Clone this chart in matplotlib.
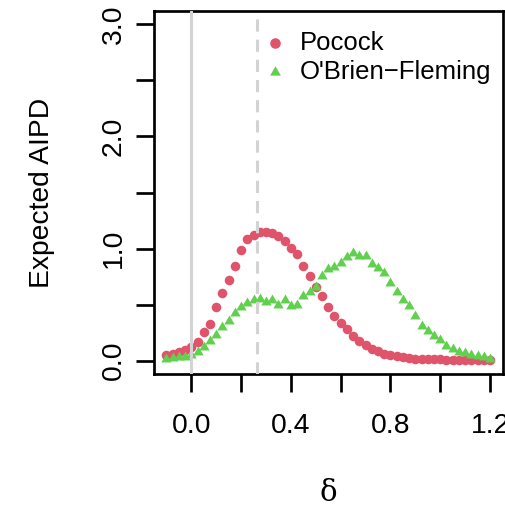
import matplotlib
matplotlib.use("Agg")
import matplotlib.pyplot as plt
import numpy as np
from matplotlib.path import Path

plt.rcParams['font.family'] = ['Liberation Sans', 'DejaVu Sans']

# effect sizes evaluated
delta = [-0.100, -0.075, -0.050, -0.025, 0.000, 0.025, 0.050, 0.075, 0.100, 0.125,
         0.150, 0.175, 0.200, 0.225, 0.250, 0.275, 0.300, 0.325, 0.350, 0.375,
         0.400, 0.425, 0.450, 0.475, 0.500, 0.525, 0.550, 0.575, 0.600, 0.625,
         0.650, 0.675, 0.700, 0.725, 0.750, 0.775, 0.800, 0.825, 0.850, 0.875,
         0.900, 0.925, 0.950, 0.975, 1.000, 1.025, 1.050, 1.075, 1.100, 1.125,
         1.150, 1.175, 1.200]

# expected AIPD, Pocock boundaries
pocock = [0.047, 0.059, 0.077, 0.098, 0.124, 0.166, 0.255, 0.326, 0.474, 0.604,
          0.716, 0.841, 0.986, 1.083, 1.125, 1.143, 1.148, 1.137, 1.113, 1.070,
          1.006, 0.947, 0.847, 0.758, 0.660, 0.577, 0.474, 0.400, 0.331, 0.281,
          0.216, 0.172, 0.136, 0.107, 0.083, 0.062, 0.047, 0.038, 0.030, 0.024,
          0.018, 0.015, 0.013, 0.011, 0.010, 0.009, 0.008, 0.007, 0.006, 0.005,
          0.005, 0.004, 0.004]

# expected AIPD, O'Brien-Fleming boundaries
obf = [0.018, 0.024, 0.030, 0.036, 0.047, 0.074, 0.118, 0.178, 0.231, 0.296,
       0.349, 0.423, 0.474, 0.512, 0.542, 0.551, 0.527, 0.542, 0.497, 0.540,
       0.491, 0.497, 0.580, 0.616, 0.660, 0.758, 0.817, 0.838, 0.867, 0.927,
       0.956, 0.935, 0.935, 0.858, 0.823, 0.779, 0.690, 0.616, 0.542, 0.491,
       0.394, 0.311, 0.261, 0.222, 0.187, 0.133, 0.104, 0.074, 0.068, 0.053,
       0.038, 0.033, 0.015]

delta_ref = 0.265  # dashed reference effect

red = "#DF536B"
green = "#61D04F"
grey = "#D3D3D3"

# equilateral triangle centred on its centroid
s3 = np.sqrt(3.0)
tri = Path([(0, 2 / s3), (1, -1 / s3), (-1, -1 / s3), (0, 2 / s3)],
           [Path.MOVETO, Path.LINETO, Path.LINETO, Path.CLOSEPOLY])

W, H = 505, 507
fig = plt.figure(figsize=(W / 100, H / 100), dpi=100)
ax = fig.add_axes([153.5 / W, 1 - 374 / H, (503 - 153.5) / W, (374 - 11) / H])

ax.scatter(delta, pocock, s=6.9**2, marker='o', color=red, linewidths=0, zorder=3)
ax.scatter(delta, obf, s=8.6**2, marker=tri, color=green, linewidths=0, zorder=3)

ax.axvline(0, color=grey, lw=2.2, zorder=4)
ax.axvline(delta_ref, color=grey, lw=2.2, ls=(0, (4, 2.6)), zorder=4)

ax.set_xlim(-0.152, 1.252)
ax.set_ylim(-0.12, 3.12)

xt = [0.0, 0.2, 0.4, 0.6, 0.8, 1.0, 1.2]
ax.set_xticks(xt)
ax.set_xticklabels(["0.0", "", "0.4", "", "0.8", "", "1.2"])
yt = [0.0, 0.5, 1.0, 1.5, 2.0, 2.5, 3.0]
ax.set_yticks(yt)
ax.set_yticklabels(["0.0", "", "1.0", "", "2.0", "", "3.0"], rotation=90, va='center')

for sp in ax.spines.values():
    sp.set_linewidth(1.95)
ax.tick_params(axis='both', direction='out', length=13, width=1.95, labelsize=20.3)
ax.tick_params(axis='x', pad=15)
ax.tick_params(axis='y', pad=6)

ax.set_ylabel("Expected AIPD", fontsize=20.3, labelpad=33)
fig.text(328 / W, 1 - 493 / H, "δ", fontsize=21, family=['DejaVu Serif'],
         ha='center', va='center')

# legend
ax.scatter([0.335], [2.83], s=7.6**2, marker='o', color=red, linewidths=0, zorder=5)
ax.scatter([0.335], [2.575], s=9.0**2, marker=tri, color=green, linewidths=0, zorder=5)
ax.text(0.435, 2.83, "Pocock", fontsize=18.5, va='center', ha='left')
ax.text(0.435, 2.575, "O'Brien\u2212Fleming", fontsize=18.5, va='center', ha='left')

fig.savefig("out.png", dpi=100)
